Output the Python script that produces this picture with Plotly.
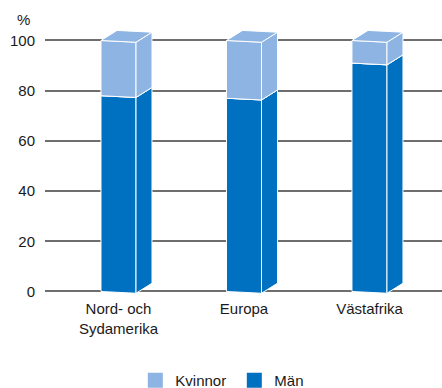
import plotly.graph_objects as go

# Share of men and women per region (percent)
regions = ["Nord- och<br>Sydamerika", "Europa", "Västafrika"]
man = [78, 77, 91]
kvinnor = [22, 23, 9]
y_ticks = [0, 20, 40, 60, 80, 100]

MAN_COLOR = "#0070C0"
KVINNOR_COLOR = "#8DB4E2"

# Pseudo-3D box geometry in data units
FRONT_W = 0.279   # width of the front face
DEPTH_X = 0.1275  # horizontal depth offset
DEPTH_Y = 4.0     # vertical depth offset
SKEW = 0.7        # slight perspective drop on the right edge

fig = go.Figure()


def add_face(xs, ys, color):
    fig.add_trace(go.Scatter(
        x=xs + [xs[0]], y=ys + [ys[0]], mode="lines", fill="toself",
        fillcolor=color, line=dict(color="white", width=1),
        hoverinfo="skip", showlegend=False,
    ))


def add_box(xc, y0, y1, color):
    xl, xr = xc - FRONT_W / 2, xc + FRONT_W / 2
    # front face
    add_face([xl, xr, xr, xl], [y0, y0 - SKEW, y1 - SKEW, y1], color)
    # side face
    add_face([xr, xr + DEPTH_X, xr + DEPTH_X, xr],
             [y0 - SKEW, y0 + DEPTH_Y - SKEW, y1 + DEPTH_Y - SKEW, y1 - SKEW], color)
    # top face
    add_face([xl, xr, xr + DEPTH_X, xl + DEPTH_X],
             [y1, y1 - SKEW, y1 + DEPTH_Y - SKEW, y1 + DEPTH_Y], color)


for i, (m, k) in enumerate(zip(man, kvinnor)):
    add_box(i, 0, m, MAN_COLOR)
    add_box(i, m, m + k, KVINNOR_COLOR)

# Legend entries
for name, color in [("Kvinnor", KVINNOR_COLOR), ("Män", MAN_COLOR)]:
    fig.add_trace(go.Scatter(
        x=[None], y=[None], mode="markers", name=name,
        marker=dict(symbol="square", size=15, color=color),
    ))

fig.update_layout(
    width=442, height=388,
    margin=dict(l=45, r=0, t=25, b=94, autoexpand=False),
    paper_bgcolor="white", plot_bgcolor="white",
    font=dict(family="Liberation Sans, Arial, sans-serif", size=15, color="#1a1a1a"),
    showlegend=True,
    legend=dict(
        orientation="h", x=0.2275, xanchor="left", y=-0.26, yanchor="top",
        font=dict(size=15), entrywidth=54, itemclick=False,
    ),
    xaxis=dict(
        range=[-0.5857, 2.578], tickvals=list(range(len(regions))), ticktext=regions,
        showgrid=False, zeroline=False, showline=False, ticks="",
        ticklabelstandoff=4, fixedrange=True, automargin=False,
    ),
    yaxis=dict(
        range=[-1, 106.17], tickvals=y_ticks, showgrid=True,
        gridcolor="#6e6e6e", gridwidth=1.5, zeroline=False, showline=False,
        ticks="", ticklabelstandoff=9, fixedrange=True, automargin=False,
    ),
    annotations=[dict(
        text="%", xref="paper", yref="paper", x=-0.033, y=1.019,
        xanchor="right", yanchor="middle", showarrow=False, font=dict(size=15),
    )],
)

fig.write_html("out.html")
